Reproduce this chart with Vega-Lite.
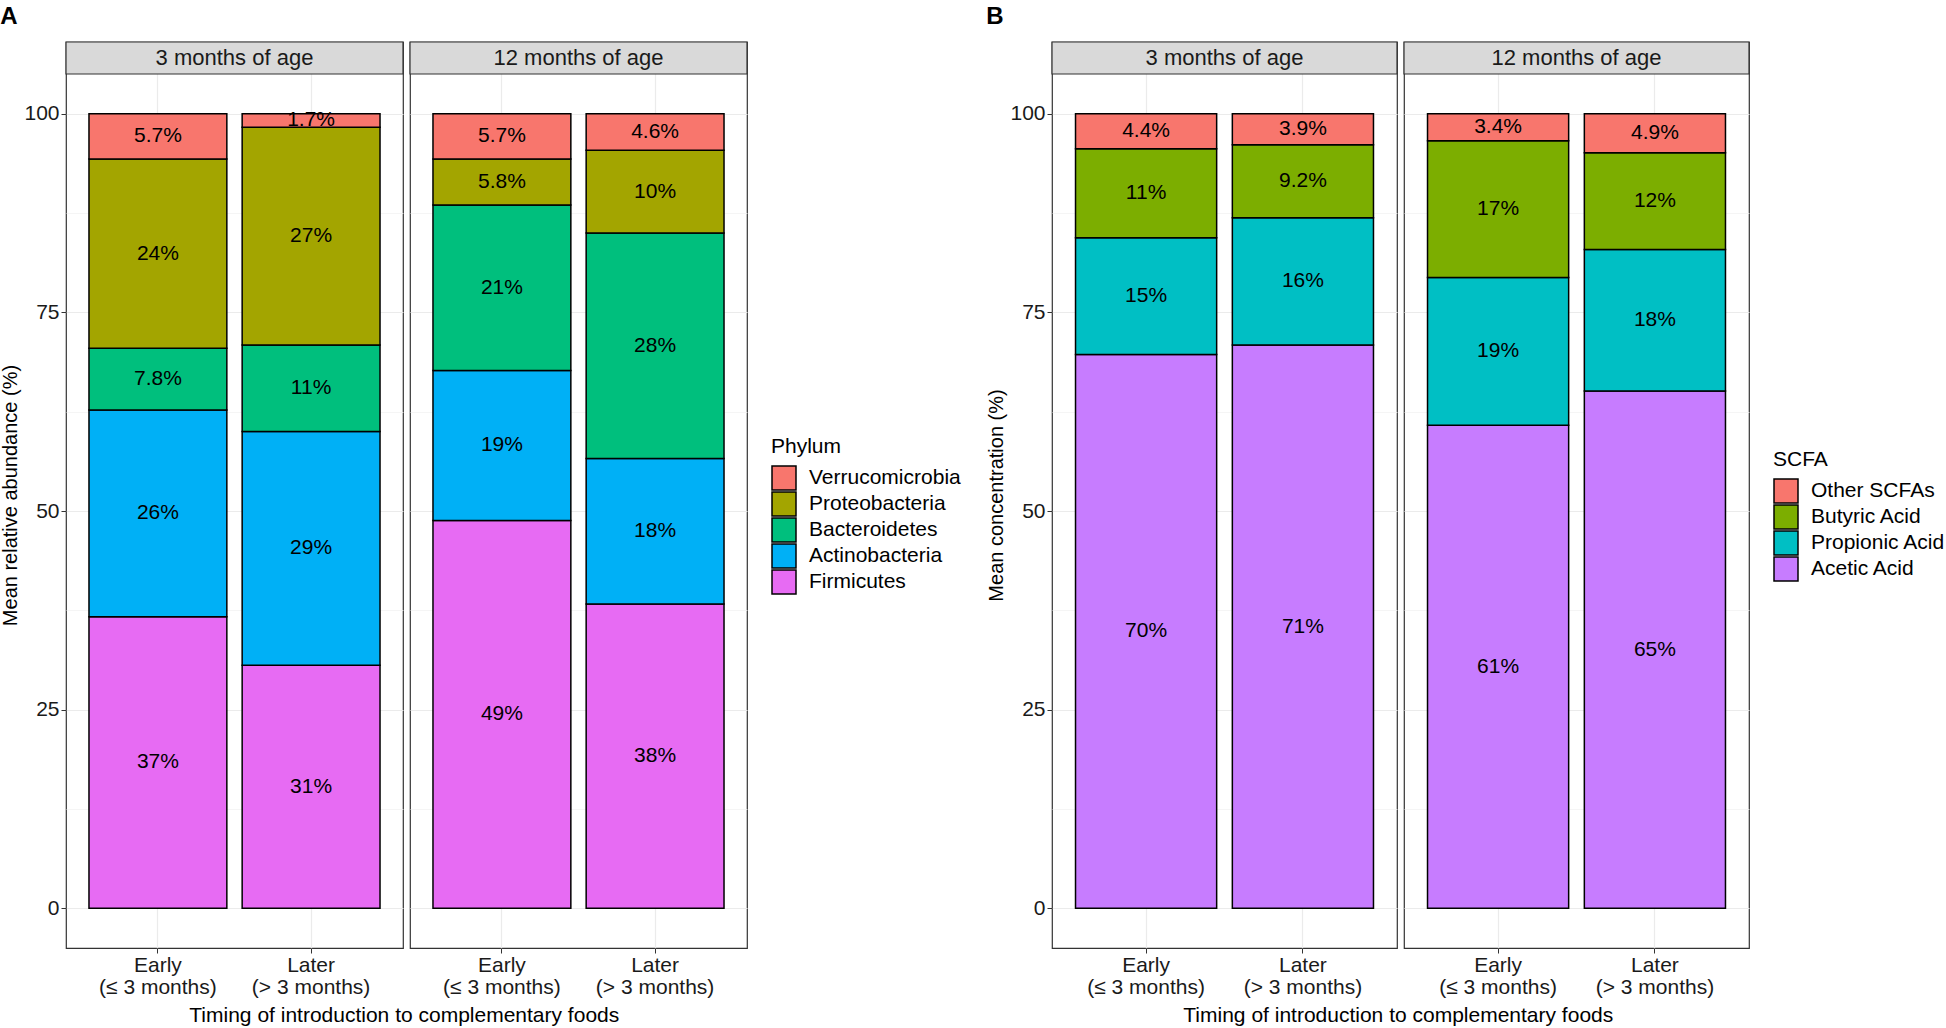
{
  "$schema": "https://vega.github.io/schema/vega-lite/v6.json",
  "background": "white",
  "padding": {"left": 0, "top": 4, "right": 0, "bottom": 0},
  "datasets": {
    "phylum": [
      {"age": "3 months of age", "timing": "Early\n(≤ 3 months)", "taxon": "Firmicutes", "k": 1, "value": 36.7},
      {"age": "3 months of age", "timing": "Early\n(≤ 3 months)", "taxon": "Actinobacteria", "k": 2, "value": 26.0},
      {"age": "3 months of age", "timing": "Early\n(≤ 3 months)", "taxon": "Bacteroidetes", "k": 3, "value": 7.8},
      {"age": "3 months of age", "timing": "Early\n(≤ 3 months)", "taxon": "Proteobacteria", "k": 4, "value": 23.8},
      {"age": "3 months of age", "timing": "Early\n(≤ 3 months)", "taxon": "Verrucomicrobia", "k": 5, "value": 5.7},
      {"age": "3 months of age", "timing": "Later\n(> 3 months)", "taxon": "Firmicutes", "k": 1, "value": 30.6},
      {"age": "3 months of age", "timing": "Later\n(> 3 months)", "taxon": "Actinobacteria", "k": 2, "value": 29.4},
      {"age": "3 months of age", "timing": "Later\n(> 3 months)", "taxon": "Bacteroidetes", "k": 3, "value": 10.9},
      {"age": "3 months of age", "timing": "Later\n(> 3 months)", "taxon": "Proteobacteria", "k": 4, "value": 27.4},
      {"age": "3 months of age", "timing": "Later\n(> 3 months)", "taxon": "Verrucomicrobia", "k": 5, "value": 1.7},
      {"age": "12 months of age", "timing": "Early\n(≤ 3 months)", "taxon": "Firmicutes", "k": 1, "value": 48.8},
      {"age": "12 months of age", "timing": "Early\n(≤ 3 months)", "taxon": "Actinobacteria", "k": 2, "value": 18.9},
      {"age": "12 months of age", "timing": "Early\n(≤ 3 months)", "taxon": "Bacteroidetes", "k": 3, "value": 20.8},
      {"age": "12 months of age", "timing": "Early\n(≤ 3 months)", "taxon": "Proteobacteria", "k": 4, "value": 5.8},
      {"age": "12 months of age", "timing": "Early\n(≤ 3 months)", "taxon": "Verrucomicrobia", "k": 5, "value": 5.7},
      {"age": "12 months of age", "timing": "Later\n(> 3 months)", "taxon": "Firmicutes", "k": 1, "value": 38.3},
      {"age": "12 months of age", "timing": "Later\n(> 3 months)", "taxon": "Actinobacteria", "k": 2, "value": 18.3},
      {"age": "12 months of age", "timing": "Later\n(> 3 months)", "taxon": "Bacteroidetes", "k": 3, "value": 28.4},
      {"age": "12 months of age", "timing": "Later\n(> 3 months)", "taxon": "Proteobacteria", "k": 4, "value": 10.4},
      {"age": "12 months of age", "timing": "Later\n(> 3 months)", "taxon": "Verrucomicrobia", "k": 5, "value": 4.6}
    ],
    "scfa": [
      {"age": "3 months of age", "timing": "Early\n(≤ 3 months)", "acid": "Acetic Acid", "k": 1, "value": 69.7},
      {"age": "3 months of age", "timing": "Early\n(≤ 3 months)", "acid": "Propionic Acid", "k": 2, "value": 14.7},
      {"age": "3 months of age", "timing": "Early\n(≤ 3 months)", "acid": "Butyric Acid", "k": 3, "value": 11.2},
      {"age": "3 months of age", "timing": "Early\n(≤ 3 months)", "acid": "Other SCFAs", "k": 4, "value": 4.4},
      {"age": "3 months of age", "timing": "Later\n(> 3 months)", "acid": "Acetic Acid", "k": 1, "value": 70.9},
      {"age": "3 months of age", "timing": "Later\n(> 3 months)", "acid": "Propionic Acid", "k": 2, "value": 16.0},
      {"age": "3 months of age", "timing": "Later\n(> 3 months)", "acid": "Butyric Acid", "k": 3, "value": 9.2},
      {"age": "3 months of age", "timing": "Later\n(> 3 months)", "acid": "Other SCFAs", "k": 4, "value": 3.9},
      {"age": "12 months of age", "timing": "Early\n(≤ 3 months)", "acid": "Acetic Acid", "k": 1, "value": 60.8},
      {"age": "12 months of age", "timing": "Early\n(≤ 3 months)", "acid": "Propionic Acid", "k": 2, "value": 18.6},
      {"age": "12 months of age", "timing": "Early\n(≤ 3 months)", "acid": "Butyric Acid", "k": 3, "value": 17.2},
      {"age": "12 months of age", "timing": "Early\n(≤ 3 months)", "acid": "Other SCFAs", "k": 4, "value": 3.4},
      {"age": "12 months of age", "timing": "Later\n(> 3 months)", "acid": "Acetic Acid", "k": 1, "value": 65.1},
      {"age": "12 months of age", "timing": "Later\n(> 3 months)", "acid": "Propionic Acid", "k": 2, "value": 17.8},
      {"age": "12 months of age", "timing": "Later\n(> 3 months)", "acid": "Butyric Acid", "k": 3, "value": 12.2},
      {"age": "12 months of age", "timing": "Later\n(> 3 months)", "acid": "Other SCFAs", "k": 4, "value": 4.9}
    ]
  },
  "config": {
    "font": "Liberation Sans",
    "view": {"stroke": "#333333", "strokeWidth": 1.2},
    "axis": {"labelFont": "Liberation Sans", "titleFont": "Liberation Sans"},
    "legend": {
      "layout": {"right": {"anchor": "middle"}},
      "titleFontSize": 21, "titleFontWeight": "normal", "titleColor": "black", "titlePadding": 8,
      "labelFontSize": 21, "labelColor": "black", "labelLimit": 400, "labelOffset": 12,
      "symbolType": "square", "symbolSize": 576, "symbolStrokeColor": "black", "symbolStrokeWidth": 1.5,
      "clipHeight": 26, "rowPadding": 0, "offset": 22
    },
    "title": {"font": "Liberation Sans", "color": "black"}
  },
  "resolve": {"scale": {"color": "independent"}},
  "spacing": 25,
  "hconcat": [
    {
      "vconcat": [
        {
          "title": {"text": "Timing of introduction to complementary foods", "orient": "bottom", "anchor": "middle", "fontSize": 21, "fontWeight": "normal", "offset": 7, "dx": 30},
          "vconcat": [
            {
              "title": {"text": "A", "anchor": "start", "fontSize": 24, "fontWeight": "bold", "offset": 12},
              "spacing": 3,
              "hconcat": [
                {
                  "width": 337, "height": 906,
                  "layer": [
                    {"data": {"values": [{"age": "3 months of age"}]},
                     "mark": {"type": "rect", "fill": "#D9D9D9", "stroke": "#333333", "strokeWidth": 1.2},
                     "encoding": {"y": {"datum": 105, "type": "quantitative", "scale": {"domain": [-5, 109.03], "nice": false, "zero": false}, "axis": null}, "y2": {"datum": 109.03}}},
                    {"data": {"values": [{"age": "3 months of age"}]},
                     "mark": {"type": "text", "fontSize": 22, "color": "#1A1A1A"},
                     "encoding": {"y": {"datum": 107, "type": "quantitative", "scale": {"domain": [-5, 109.03], "nice": false, "zero": false}, "axis": null}, "text": {"field": "age"}}},
                    {"data": {"name": "phylum"},
                     "transform": [{"filter": "datum.age == '3 months of age'"}, {"stack": "value", "groupby": ["timing"], "sort": [{"field": "k"}], "as": ["y0", "y1"]}],
                     "mark": {"type": "bar", "stroke": "black", "strokeWidth": 1.5},
                     "encoding": {
                       "x": {"field": "timing", "type": "nominal", "sort": ["Early\n(≤ 3 months)", "Later\n(> 3 months)"], "scale": {"paddingInner": 0.1, "paddingOuter": 0.15},
                             "axis": {"title": null, "labelExpr": "split(datum.label, '\\n')", "labelFontSize": 21, "labelColor": "#1A1A1A", "labelAngle": 0, "labelPadding": 1, "labelLineHeight": 22, "grid": true, "gridColor": "#EBEBEB", "gridWidth": 1.2, "tickColor": "#333333", "tickSize": 5, "domain": false, "bandPosition": 0.5}},
                       "y": {"field": "y1", "type": "quantitative", "scale": {"domain": [-5, 109.03], "nice": false, "zero": false},
                             "axis": {"values": [0, 25, 50, 75, 100], "title": "Mean relative abundance (%)", "titleFontSize": 20, "titleFontWeight": "normal", "titleColor": "black", "titlePadding": 3, "labelFontSize": 21, "labelColor": "#1A1A1A", "labelPadding": 2, "tickColor": "#333333", "tickSize": 5, "grid": true, "gridColor": "#EBEBEB", "gridWidth": 1.2, "domain": false}},
                       "y2": {"field": "y0"},
                       "color": {"field": "taxon", "type": "nominal", "title": "Phylum",
                                 "scale": {"domain": ["Verrucomicrobia", "Proteobacteria", "Bacteroidetes", "Actinobacteria", "Firmicutes"], "range": ["#F8766D", "#A3A500", "#00BF7D", "#00B0F6", "#E76BF3"]}}
                     }},
                    {"data": {"name": "phylum"},
                     "transform": [{"filter": "datum.age == '3 months of age'"}, {"stack": "value", "groupby": ["timing"], "sort": [{"field": "k"}], "as": ["y0", "y1"]}, {"calculate": "(datum.y0 + datum.y1) / 2", "as": "ymid"}, {"calculate": "format(datum.value, '.2r') + '%'", "as": "lab"}],
                     "mark": {"type": "text", "fontSize": 21, "color": "black"},
                     "encoding": {
                       "x": {"field": "timing", "type": "nominal", "sort": ["Early\n(≤ 3 months)", "Later\n(> 3 months)"]},
                       "y": {"field": "ymid", "type": "quantitative", "scale": {"domain": [-5, 109.03], "nice": false, "zero": false},
                             "axis": {"values": [12.5, 37.5, 62.5, 87.5], "labels": false, "ticks": false, "domain": false, "title": null, "grid": true, "gridColor": "#F2F2F2", "gridWidth": 0.8, "minExtent": 0, "maxExtent": 0}},
                       "text": {"field": "lab"}
                     }}
                  ],
                  "resolve": {"axis": {"y": "independent"}}
                },
                {
                  "width": 337, "height": 906,
                  "layer": [
                    {"data": {"values": [{"age": "12 months of age"}]},
                     "mark": {"type": "rect", "fill": "#D9D9D9", "stroke": "#333333", "strokeWidth": 1.2},
                     "encoding": {"y": {"datum": 105, "type": "quantitative", "scale": {"domain": [-5, 109.03], "nice": false, "zero": false}, "axis": null}, "y2": {"datum": 109.03}}},
                    {"data": {"values": [{"age": "12 months of age"}]},
                     "mark": {"type": "text", "fontSize": 22, "color": "#1A1A1A"},
                     "encoding": {"y": {"datum": 107, "type": "quantitative", "scale": {"domain": [-5, 109.03], "nice": false, "zero": false}, "axis": null}, "text": {"field": "age"}}},
                    {"data": {"name": "phylum"},
                     "transform": [{"filter": "datum.age == '12 months of age'"}, {"stack": "value", "groupby": ["timing"], "sort": [{"field": "k"}], "as": ["y0", "y1"]}],
                     "mark": {"type": "bar", "stroke": "black", "strokeWidth": 1.5},
                     "encoding": {
                       "x": {"field": "timing", "type": "nominal", "sort": ["Early\n(≤ 3 months)", "Later\n(> 3 months)"], "scale": {"paddingInner": 0.1, "paddingOuter": 0.15},
                             "axis": {"title": null, "labelExpr": "split(datum.label, '\\n')", "labelFontSize": 21, "labelColor": "#1A1A1A", "labelAngle": 0, "labelPadding": 1, "labelLineHeight": 22, "grid": true, "gridColor": "#EBEBEB", "gridWidth": 1.2, "tickColor": "#333333", "tickSize": 5, "domain": false, "bandPosition": 0.5}},
                       "y": {"field": "y1", "type": "quantitative", "scale": {"domain": [-5, 109.03], "nice": false, "zero": false},
                             "axis": {"values": [0, 25, 50, 75, 100], "title": null, "labels": false, "ticks": false, "grid": true, "gridColor": "#EBEBEB", "gridWidth": 1.2, "domain": false, "minExtent": 0, "maxExtent": 0}},
                       "y2": {"field": "y0"},
                       "color": {"field": "taxon", "type": "nominal", "title": "Phylum",
                                 "scale": {"domain": ["Verrucomicrobia", "Proteobacteria", "Bacteroidetes", "Actinobacteria", "Firmicutes"], "range": ["#F8766D", "#A3A500", "#00BF7D", "#00B0F6", "#E76BF3"]}}
                     }},
                    {"data": {"name": "phylum"},
                     "transform": [{"filter": "datum.age == '12 months of age'"}, {"stack": "value", "groupby": ["timing"], "sort": [{"field": "k"}], "as": ["y0", "y1"]}, {"calculate": "(datum.y0 + datum.y1) / 2", "as": "ymid"}, {"calculate": "format(datum.value, '.2r') + '%'", "as": "lab"}],
                     "mark": {"type": "text", "fontSize": 21, "color": "black"},
                     "encoding": {
                       "x": {"field": "timing", "type": "nominal", "sort": ["Early\n(≤ 3 months)", "Later\n(> 3 months)"]},
                       "y": {"field": "ymid", "type": "quantitative", "scale": {"domain": [-5, 109.03], "nice": false, "zero": false},
                             "axis": {"values": [12.5, 37.5, 62.5, 87.5], "labels": false, "ticks": false, "domain": false, "title": null, "grid": true, "gridColor": "#F2F2F2", "gridWidth": 0.8, "minExtent": 0, "maxExtent": 0}},
                       "text": {"field": "lab"}
                     }}
                  ],
                  "resolve": {"axis": {"y": "independent"}}
                }
              ]
            }
          ]
        }
      ]
    },
    {
      "vconcat": [
        {
          "title": {"text": "Timing of introduction to complementary foods", "orient": "bottom", "anchor": "middle", "fontSize": 21, "fontWeight": "normal", "offset": 7, "dx": 30},
          "vconcat": [
            {
              "title": {"text": "B", "anchor": "start", "fontSize": 24, "fontWeight": "bold", "offset": 12},
              "spacing": 3,
              "hconcat": [
                {
                  "width": 345, "height": 906,
                  "layer": [
                    {"data": {"values": [{"age": "3 months of age"}]},
                     "mark": {"type": "rect", "fill": "#D9D9D9", "stroke": "#333333", "strokeWidth": 1.2},
                     "encoding": {"y": {"datum": 105, "type": "quantitative", "scale": {"domain": [-5, 109.03], "nice": false, "zero": false}, "axis": null}, "y2": {"datum": 109.03}}},
                    {"data": {"values": [{"age": "3 months of age"}]},
                     "mark": {"type": "text", "fontSize": 22, "color": "#1A1A1A"},
                     "encoding": {"y": {"datum": 107, "type": "quantitative", "scale": {"domain": [-5, 109.03], "nice": false, "zero": false}, "axis": null}, "text": {"field": "age"}}},
                    {"data": {"name": "scfa"},
                     "transform": [{"filter": "datum.age == '3 months of age'"}, {"stack": "value", "groupby": ["timing"], "sort": [{"field": "k"}], "as": ["y0", "y1"]}],
                     "mark": {"type": "bar", "stroke": "black", "strokeWidth": 1.5},
                     "encoding": {
                       "x": {"field": "timing", "type": "nominal", "sort": ["Early\n(≤ 3 months)", "Later\n(> 3 months)"], "scale": {"paddingInner": 0.1, "paddingOuter": 0.15},
                             "axis": {"title": null, "labelExpr": "split(datum.label, '\\n')", "labelFontSize": 21, "labelColor": "#1A1A1A", "labelAngle": 0, "labelPadding": 1, "labelLineHeight": 22, "grid": true, "gridColor": "#EBEBEB", "gridWidth": 1.2, "tickColor": "#333333", "tickSize": 5, "domain": false, "bandPosition": 0.5}},
                       "y": {"field": "y1", "type": "quantitative", "scale": {"domain": [-5, 109.03], "nice": false, "zero": false},
                             "axis": {"values": [0, 25, 50, 75, 100], "title": "Mean concentration (%)", "titleFontSize": 20, "titleFontWeight": "normal", "titleColor": "black", "titlePadding": 3, "labelFontSize": 21, "labelColor": "#1A1A1A", "labelPadding": 2, "tickColor": "#333333", "tickSize": 5, "grid": true, "gridColor": "#EBEBEB", "gridWidth": 1.2, "domain": false}},
                       "y2": {"field": "y0"},
                       "color": {"field": "acid", "type": "nominal", "title": "SCFA",
                                 "scale": {"domain": ["Other SCFAs", "Butyric Acid", "Propionic Acid", "Acetic Acid"], "range": ["#F8766D", "#7CAE00", "#00BFC4", "#C77CFF"]}}
                     }},
                    {"data": {"name": "scfa"},
                     "transform": [{"filter": "datum.age == '3 months of age'"}, {"stack": "value", "groupby": ["timing"], "sort": [{"field": "k"}], "as": ["y0", "y1"]}, {"calculate": "(datum.y0 + datum.y1) / 2", "as": "ymid"}, {"calculate": "format(datum.value, '.2r') + '%'", "as": "lab"}],
                     "mark": {"type": "text", "fontSize": 21, "color": "black"},
                     "encoding": {
                       "x": {"field": "timing", "type": "nominal", "sort": ["Early\n(≤ 3 months)", "Later\n(> 3 months)"]},
                       "y": {"field": "ymid", "type": "quantitative", "scale": {"domain": [-5, 109.03], "nice": false, "zero": false},
                             "axis": {"values": [12.5, 37.5, 62.5, 87.5], "labels": false, "ticks": false, "domain": false, "title": null, "grid": true, "gridColor": "#F2F2F2", "gridWidth": 0.8, "minExtent": 0, "maxExtent": 0}},
                       "text": {"field": "lab"}
                     }}
                  ],
                  "resolve": {"axis": {"y": "independent"}}
                },
                {
                  "width": 345, "height": 906,
                  "layer": [
                    {"data": {"values": [{"age": "12 months of age"}]},
                     "mark": {"type": "rect", "fill": "#D9D9D9", "stroke": "#333333", "strokeWidth": 1.2},
                     "encoding": {"y": {"datum": 105, "type": "quantitative", "scale": {"domain": [-5, 109.03], "nice": false, "zero": false}, "axis": null}, "y2": {"datum": 109.03}}},
                    {"data": {"values": [{"age": "12 months of age"}]},
                     "mark": {"type": "text", "fontSize": 22, "color": "#1A1A1A"},
                     "encoding": {"y": {"datum": 107, "type": "quantitative", "scale": {"domain": [-5, 109.03], "nice": false, "zero": false}, "axis": null}, "text": {"field": "age"}}},
                    {"data": {"name": "scfa"},
                     "transform": [{"filter": "datum.age == '12 months of age'"}, {"stack": "value", "groupby": ["timing"], "sort": [{"field": "k"}], "as": ["y0", "y1"]}],
                     "mark": {"type": "bar", "stroke": "black", "strokeWidth": 1.5},
                     "encoding": {
                       "x": {"field": "timing", "type": "nominal", "sort": ["Early\n(≤ 3 months)", "Later\n(> 3 months)"], "scale": {"paddingInner": 0.1, "paddingOuter": 0.15},
                             "axis": {"title": null, "labelExpr": "split(datum.label, '\\n')", "labelFontSize": 21, "labelColor": "#1A1A1A", "labelAngle": 0, "labelPadding": 1, "labelLineHeight": 22, "grid": true, "gridColor": "#EBEBEB", "gridWidth": 1.2, "tickColor": "#333333", "tickSize": 5, "domain": false, "bandPosition": 0.5}},
                       "y": {"field": "y1", "type": "quantitative", "scale": {"domain": [-5, 109.03], "nice": false, "zero": false},
                             "axis": {"values": [0, 25, 50, 75, 100], "title": null, "labels": false, "ticks": false, "grid": true, "gridColor": "#EBEBEB", "gridWidth": 1.2, "domain": false, "minExtent": 0, "maxExtent": 0}},
                       "y2": {"field": "y0"},
                       "color": {"field": "acid", "type": "nominal", "title": "SCFA",
                                 "scale": {"domain": ["Other SCFAs", "Butyric Acid", "Propionic Acid", "Acetic Acid"], "range": ["#F8766D", "#7CAE00", "#00BFC4", "#C77CFF"]}}
                     }},
                    {"data": {"name": "scfa"},
                     "transform": [{"filter": "datum.age == '12 months of age'"}, {"stack": "value", "groupby": ["timing"], "sort": [{"field": "k"}], "as": ["y0", "y1"]}, {"calculate": "(datum.y0 + datum.y1) / 2", "as": "ymid"}, {"calculate": "format(datum.value, '.2r') + '%'", "as": "lab"}],
                     "mark": {"type": "text", "fontSize": 21, "color": "black"},
                     "encoding": {
                       "x": {"field": "timing", "type": "nominal", "sort": ["Early\n(≤ 3 months)", "Later\n(> 3 months)"]},
                       "y": {"field": "ymid", "type": "quantitative", "scale": {"domain": [-5, 109.03], "nice": false, "zero": false},
                             "axis": {"values": [12.5, 37.5, 62.5, 87.5], "labels": false, "ticks": false, "domain": false, "title": null, "grid": true, "gridColor": "#F2F2F2", "gridWidth": 0.8, "minExtent": 0, "maxExtent": 0}},
                       "text": {"field": "lab"}
                     }}
                  ],
                  "resolve": {"axis": {"y": "independent"}}
                }
              ]
            }
          ]
        }
      ]
    }
  ]
}
